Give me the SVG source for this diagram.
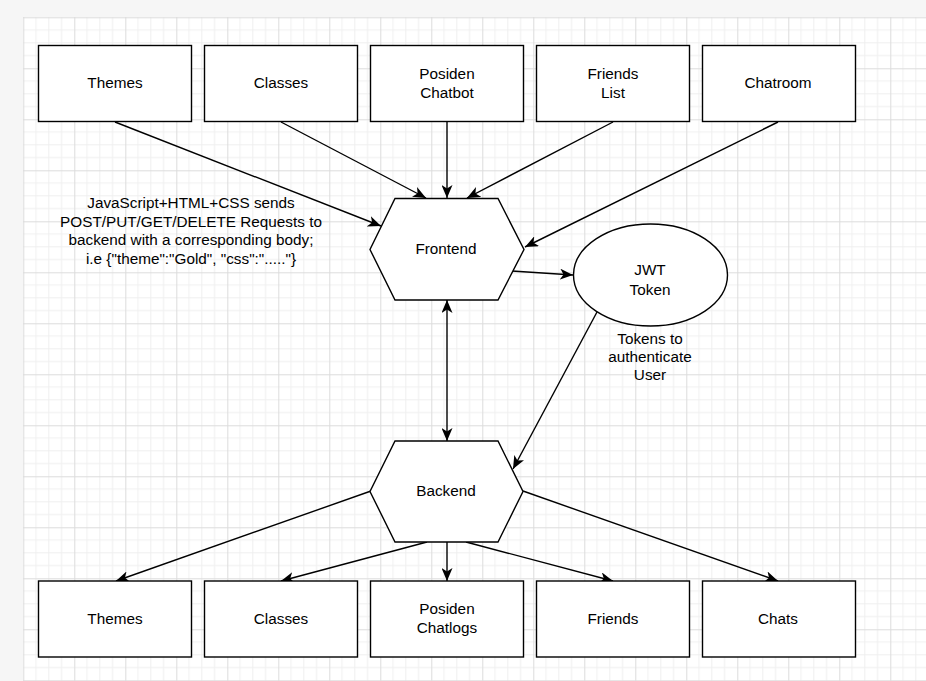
<svg xmlns="http://www.w3.org/2000/svg" width="926" height="681" viewBox="0 0 926 681">
<defs>
<pattern id="grid" patternUnits="userSpaceOnUse" x="23.3" y="17.3" width="51" height="51">
<rect width="51" height="51" fill="#ffffff"/>
<path d="M12.75 0V51M25.5 0V51M38.25 0V51M0 12.75H51M0 25.5H51M0 38.25H51" stroke="#efefef" stroke-width="1" fill="none"/>
<path d="M0.5 0V51M0 0.5H51" stroke="#dcdcdc" stroke-width="1" fill="none"/>
</pattern>
<marker id="arr" viewBox="0 0 13 11" refX="13" refY="5.5" markerWidth="13" markerHeight="11" markerUnits="userSpaceOnUse" orient="auto-start-reverse">
<path d="M0,0 L13,5.5 L0,11 L3.5,5.5 Z" fill="#000"/>
</marker>
</defs>
<style>
.box{fill:#fff;stroke:#000;stroke-width:1.4}
.t{font-family:"Liberation Sans",Arial,sans-serif;font-size:15.3px;fill:#000;text-anchor:middle}
.c line,.c path{stroke:#000;stroke-width:1.4;fill:none}
</style>
<rect x="0" y="0" width="926" height="681" fill="#f6f6f6"/>
<rect x="23" y="17" width="903" height="664" fill="url(#grid)"/>
<g class="c" id="connectors">
<line x1="115" y1="122" x2="381" y2="226" marker-end="url(#arr)"/>
<line x1="281" y1="122" x2="426" y2="198" marker-end="url(#arr)"/>
<line x1="447" y1="122" x2="447" y2="198" marker-end="url(#arr)"/>
<line x1="613" y1="122" x2="467" y2="198" marker-end="url(#arr)"/>
<line x1="778" y1="122" x2="525" y2="247" marker-end="url(#arr)"/>
<line x1="512" y1="271" x2="573" y2="275" marker-end="url(#arr)"/>
<line x1="597" y1="312" x2="513" y2="469" marker-end="url(#arr)"/>
<line x1="447" y1="300" x2="447" y2="441" marker-start="url(#arr)" marker-end="url(#arr)"/>
<line x1="371" y1="491" x2="116" y2="581" marker-end="url(#arr)"/>
<line x1="427" y1="542" x2="281" y2="581" marker-end="url(#arr)"/>
<line x1="447" y1="542" x2="447" y2="581" marker-end="url(#arr)"/>
<line x1="466" y1="542" x2="613" y2="581" marker-end="url(#arr)"/>
<line x1="523" y1="491" x2="778" y2="581" marker-end="url(#arr)"/>
</g>
<g id="themes-top"><rect class="box" x="38.5" y="45.5" width="153" height="76"/><text class="t" x="115" y="88">Themes</text></g>
<g id="classes-top"><rect class="box" x="204.5" y="45.5" width="153" height="76"/><text class="t" x="281" y="88">Classes</text></g>
<g id="chatbot"><rect class="box" x="370.5" y="45.5" width="153" height="76"/><text class="t" x="447" y="78.5">Posiden</text><text class="t" x="447" y="97.5">Chatbot</text></g>
<g id="friends-list"><rect class="box" x="536.5" y="45.5" width="153" height="76"/><text class="t" x="613" y="78.5">Friends</text><text class="t" x="613" y="97.5">List</text></g>
<g id="chatroom"><rect class="box" x="702.5" y="45.5" width="153" height="76"/><text class="t" x="778" y="88">Chatroom</text></g>
<g id="frontend"><path class="box" d="M395 198.5H498L524 249.5L498 300H395L370 249.5Z"/><text class="t" x="446" y="254">Frontend</text></g>
<g id="jwt"><ellipse class="box" cx="650.5" cy="275" rx="77" ry="51"/><text class="t" x="650" y="275">JWT</text><text class="t" x="650" y="294.5">Token</text></g>
<g id="backend"><path class="box" d="M395 441H498L523 491.5L498 542H395L370 491.5Z"/><text class="t" x="446" y="496">Backend</text></g>
<g id="themes-bottom"><rect class="box" x="38.5" y="581" width="153" height="76"/><text class="t" x="115" y="623.5">Themes</text></g>
<g id="classes-bottom"><rect class="box" x="204.5" y="581" width="153" height="76"/><text class="t" x="281" y="623.5">Classes</text></g>
<g id="chatlogs"><rect class="box" x="370.5" y="581" width="153" height="76"/><text class="t" x="447" y="613.5">Posiden</text><text class="t" x="447" y="633">Chatlogs</text></g>
<g id="friends-bottom"><rect class="box" x="536.5" y="581" width="153" height="76"/><text class="t" x="613" y="623.5">Friends</text></g>
<g id="chats"><rect class="box" x="702.5" y="581" width="153" height="76"/><text class="t" x="778" y="623.5">Chats</text></g>
<g id="label-requests"><text class="t" x="191" y="207.5">JavaScript+HTML+CSS sends</text><text class="t" x="191" y="226.5">POST/PUT/GET/DELETE Requests to</text><text class="t" x="191" y="245">backend with a corresponding body;</text><text class="t" x="191" y="263.5">i.e {"theme":"Gold", "css":"....."}</text></g>
<g id="label-tokens"><text class="t" x="650" y="344">Tokens to</text><text class="t" x="650" y="362">authenticate</text><text class="t" x="650" y="380">User</text></g>
</svg>
